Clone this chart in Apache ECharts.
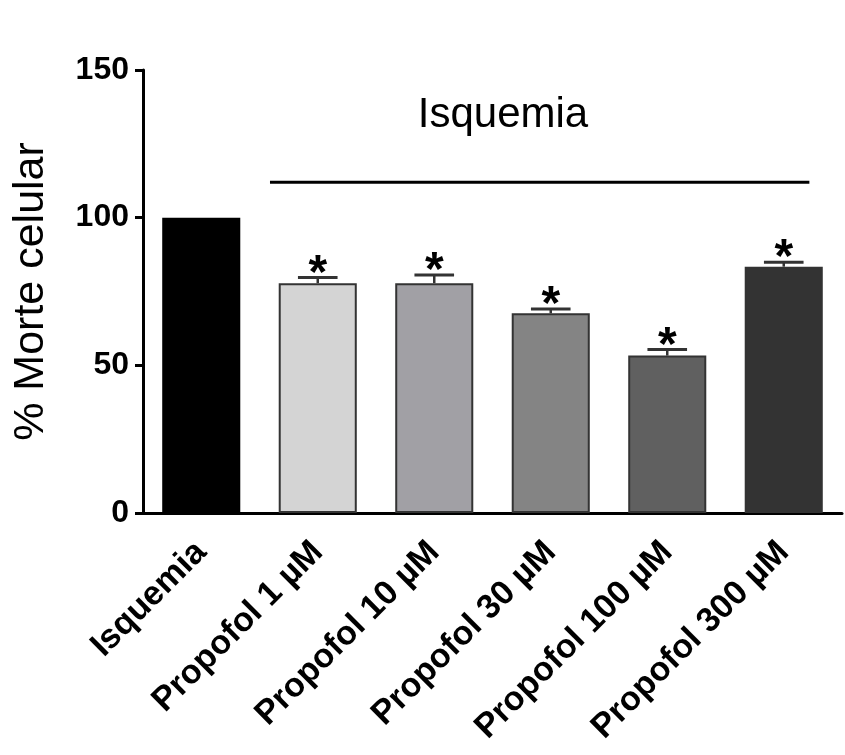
<!DOCTYPE html>
<html>
<head>
<meta charset="utf-8">
<title>Morte celular</title>
<script src="https://cdn.jsdelivr.net/npm/echarts@6/dist/echarts.min.js"></script>
<style>
  html, body { margin: 0; padding: 0; background: #fff; }
  #chart { width: 845px; height: 755px; }
</style>
</head>
<body>
<div id="chart"></div>
<script>
  // data
  var categories = ['Isquemia', 'Propofol 1 µM', 'Propofol 10 µM', 'Propofol 30 µM', 'Propofol 100 µM', 'Propofol 300 µM'];
  var meanValues = [100, 77.8, 77.8, 67.6, 53.3, 83.4];
  var errValues = [0, 1.9, 2.8, 1.5, 2.1, 1.5];
  var significant = [false, true, true, true, true, true];
  var barColors = ['#000000', '#d4d4d4', '#a1a0a5', '#848484', '#606060', '#333333'];
  var yTicks = { min: 0, max: 150, interval: 50 };
  // bracket over the treated groups (helper axis runs -0.5 .. 5.5)
  var groupLineX = [0.59, 5.22];
  var groupLineY = 112;
  var groupLabel = 'Isquemia';
  var groupLabelPos = [2.59, 134.5];

  var font = 'Arial, "Liberation Sans", sans-serif';

  var barData = meanValues.map(function (v, i) {
    return {
      value: v,
      itemStyle: {
        color: barColors[i],
        borderColor: i === 0 ? '#000' : '#333',
        borderWidth: 2
      }
    };
  });

  var errData = meanValues.map(function (v, i) {
    return [i, v, errValues[i], significant[i] ? 1 : 0];
  });

  function renderErr(params, api) {
    var i = api.value(0);
    var mean = api.value(1);
    var err = api.value(2);
    var base = api.coord([i, mean]);
    var top = api.coord([i, mean + err]);
    var half = api.size([1, 0])[0] * 0.17;
    var children = [];
    if (err > 0) {
      children.push({
        type: 'line',
        shape: { x1: base[0], y1: base[1], x2: top[0], y2: top[1] },
        style: { stroke: '#333', lineWidth: 2.5 }
      });
      children.push({
        type: 'line',
        shape: { x1: top[0] - half, y1: top[1], x2: top[0] + half, y2: top[1] },
        style: { stroke: '#333', lineWidth: 3 }
      });
    }
    if (api.value(3)) {
      children.push({
        type: 'text',
        style: {
          text: '*',
          x: top[0],
          y: top[1] - 3,
          align: 'center',
          verticalAlign: 'middle',
          font: 'bold 48px ' + font,
          fill: '#000'
        }
      });
    }
    return { type: 'group', children: children };
  }

  var chart = echarts.init(document.getElementById('chart'));
  var option = {
    backgroundColor: '#fff',
    animation: false,
    grid: { left: 143, top: 70, right: 3, bottom: 242, containLabel: false },
    xAxis: [{
      type: 'category',
      data: categories,
      axisLine: { lineStyle: { color: '#000', width: 3 } },
      axisTick: { alignWithLabel: true, length: 11, lineStyle: { color: '#000', width: 3 } },
      axisLabel: {
        rotate: 45,
        margin: 34,
        interval: 0,
        color: '#000',
        fontWeight: 'bold',
        fontSize: 34,
        fontFamily: font
      }
    }, {
      type: 'value',
      min: -0.5,
      max: 5.5,
      show: false
    }],
    yAxis: {
      type: 'value',
      min: yTicks.min,
      max: yTicks.max,
      interval: yTicks.interval,
      name: '% Morte celular',
      nameLocation: 'middle',
      nameRotate: 90,
      nameGap: 90,
      nameTextStyle: { color: '#000', fontSize: 43, fontFamily: font },
      axisLine: { show: true, onZero: false, lineStyle: { color: '#000', width: 3 } },
      axisTick: { show: true, length: 8, lineStyle: { color: '#000', width: 3 } },
      axisLabel: { color: '#000', fontWeight: 'bold', fontSize: 32, fontFamily: font, margin: 14 },
      splitLine: { show: false }
    },
    series: [{
      type: 'bar',
      data: barData,
      barWidth: '67%',
      z: 2
    }, {
      type: 'custom',
      renderItem: renderErr,
      data: errData,
      z: 3
    }, {
      type: 'line',
      xAxisIndex: 1,
      data: [[groupLineX[0], groupLineY], [groupLineX[1], groupLineY]],
      symbol: 'none',
      lineStyle: { color: '#000', width: 3 }
    }, {
      type: 'scatter',
      xAxisIndex: 1,
      data: [groupLabelPos],
      symbolSize: 0,
      itemStyle: { opacity: 1 },
      label: {
        show: true,
        position: 'inside',
        formatter: groupLabel,
        color: '#000',
        fontSize: 42,
        fontFamily: font
      }
    }]
  };
  chart.setOption(option);
</script>
</body>
</html>
